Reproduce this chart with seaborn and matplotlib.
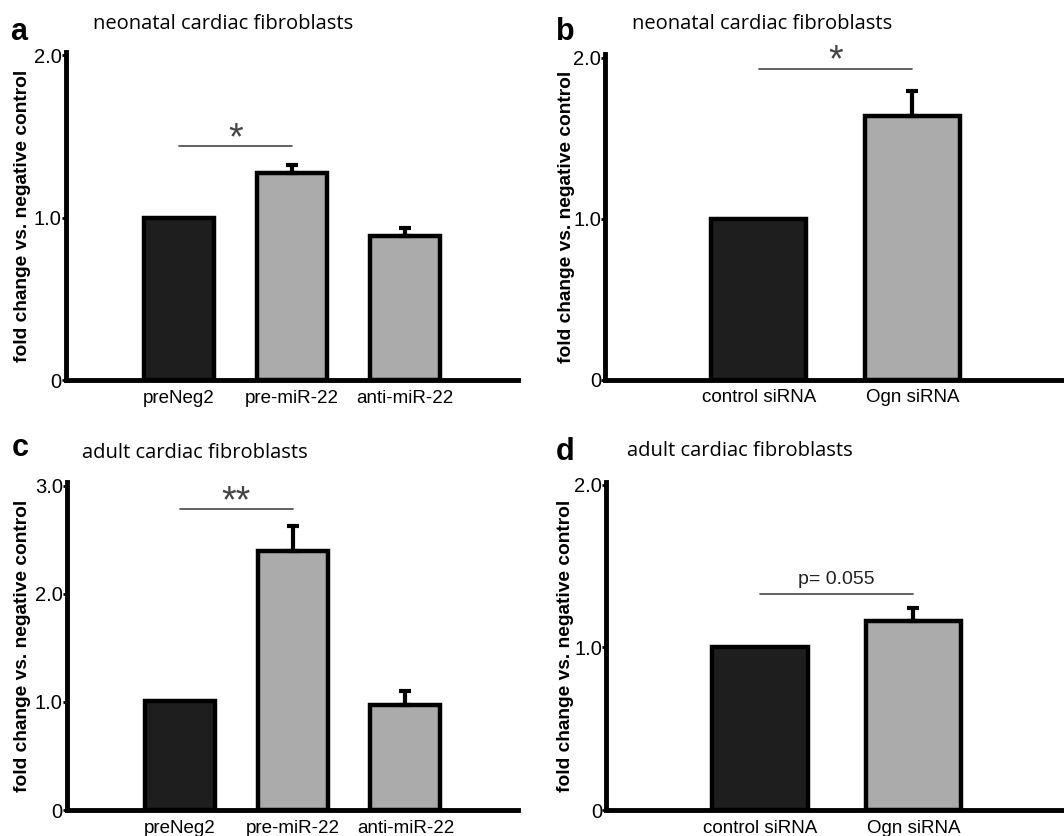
import pandas as pd
import seaborn as sns
import matplotlib.pyplot as plt

### Data ###

mir_groups = ["preNeg2", "pre-miR-22", "anti-miR-22"]
sirna_groups = ["control siRNA", "Ogn siRNA"]

# panel a: neonatal, miR-22
a_mean = [1.0, 1.275, 0.89]
a_err = [0.0, 0.05, 0.045]
# panel b: neonatal, Ogn siRNA
b_mean = [1.0, 1.64]
b_err = [0.0, 0.15]
# panel c: adult, miR-22
c_mean = [1.01, 2.40, 0.97]
c_err = [0.0, 0.23, 0.13]
# panel d: adult, Ogn siRNA
d_mean = [1.0, 1.165]
d_err = [0.0, 0.075]

titles = ["neonatal cardiac fibroblasts", "neonatal cardiac fibroblasts",
          "adult cardiac fibroblasts", "adult cardiac fibroblasts"]
letters = ["a", "b", "c", "d"]
ymax = [2.0, 2.0, 3.0, 2.0]
yticks = [[0, 1.0, 2.0], [0, 1.0, 2.0], [0, 1.0, 2.0, 3.0], [0, 1.0, 2.0]]
ytick_labels = [["0", "1.0", "2.0"], ["0", "1.0", "2.0"],
                ["0", "1.0", "2.0", "3.0"], ["0", "1.0", "2.0"]]
sig_text = ["*", "*", "**", "p= 0.055"]
sig_y = [1.44, 1.93, 2.78, 1.33]

DARK = "#1e1e1e"
GRAY = "#ababab"

sns.set_theme(style="white")
plt.rcParams["font.family"] = ["Liberation Sans", "DejaVu Sans"]
for k in ["text.color", "axes.labelcolor", "xtick.color", "ytick.color"]:
    plt.rcParams[k] = "black"

W, H = 1064, 836
fig = plt.figure(figsize=(W / 100, H / 100), dpi=100)
boxes = [
    [0.062, 0.545, 0.425, 0.393],
    [0.569, 0.546, 0.440, 0.389],
    [0.063, 0.031, 0.424, 0.392],
    [0.570, 0.031, 0.440, 0.393],
]
# pixel positions (x, baseline y from top) of panel letters and titles
letter_pos = [(10, 40), (556, 40), (12, 456), (556, 460)]
title_pos = [(93, 29), (632, 29), (82, 458), (627, 456)]
# y label anchor (axes fraction)
label_x = [-0.077, -0.066, -0.080, -0.069]

panels = [(mir_groups, a_mean, a_err), (sirna_groups, b_mean, b_err),
          (mir_groups, c_mean, c_err), (sirna_groups, d_mean, d_err)]

for i, (groups, means, errs) in enumerate(panels):
    ax = fig.add_axes(boxes[i])
    df = pd.DataFrame({"group": groups, "value": means})
    pal = [DARK] + [GRAY] * (len(groups) - 1)
    sns.barplot(data=df, x="group", y="value", hue="group", palette=pal,
                width=0.62, edgecolor="black", linewidth=3.2, legend=False,
                saturation=1, ax=ax)
    # upper-only error bars
    for j, p in enumerate(ax.patches[:len(groups)]):
        if errs[j] > 0:
            xc = p.get_x() + p.get_width() / 2
            ax.errorbar(xc, means[j], yerr=[[0], [errs[j]]], fmt="none",
                        ecolor="black", elinewidth=3, capsize=4, capthick=3,
                        zorder=1)
    n = len(groups)
    ax.set_xlim(-1, n if n == 3 else 2.05)
    ax.set_ylim(0, ymax[i] * 1.01)
    ax.set_yticks(yticks[i])
    ax.set_yticklabels(ytick_labels[i], fontsize=14.5)
    ax.tick_params(axis="y", direction="out", length=3, width=2, pad=0,
                   left=True)
    ax.tick_params(axis="x", length=0, labelsize=13.5, pad=7)
    ax.set_xlabel("")
    ax.set_ylabel("fold change vs. negative control", fontsize=13.8,
                  fontweight="bold")
    ax.yaxis.set_label_coords(label_x[i], 0.5)
    for s in ["top", "right"]:
        ax.spines[s].set_visible(False)
    for s in ["left", "bottom"]:
        ax.spines[s].set_linewidth(3.5)
        ax.spines[s].set_color("black")
    # significance bar between first two groups
    ax.plot([0, 1], [sig_y[i], sig_y[i]], color="#555555", lw=1.3)
    if sig_text[i].startswith("*"):
        ax.annotate(sig_text[i], (0.5, sig_y[i]), xytext=(0, -2),
                    textcoords="offset points", ha="center", va="baseline",
                    fontsize=27, color="#444444")
    else:
        ax.annotate(sig_text[i], (0.5, sig_y[i]), xytext=(0, 7),
                    textcoords="offset points", ha="center", va="baseline",
                    fontsize=14, color="#222222")
    # panel letter and title
    lx, ly = letter_pos[i]
    fig.text(lx / W, 1 - ly / H, letters[i], fontsize=22,
             fontweight="bold", ha="left", va="baseline")
    tx, ty = title_pos[i]
    fig.text(tx / W, 1 - ty / H, titles[i], fontsize=14.5,
             family=["Open Sans", "DejaVu Sans"], ha="left", va="baseline")

fig.savefig("out.png", dpi=100)
